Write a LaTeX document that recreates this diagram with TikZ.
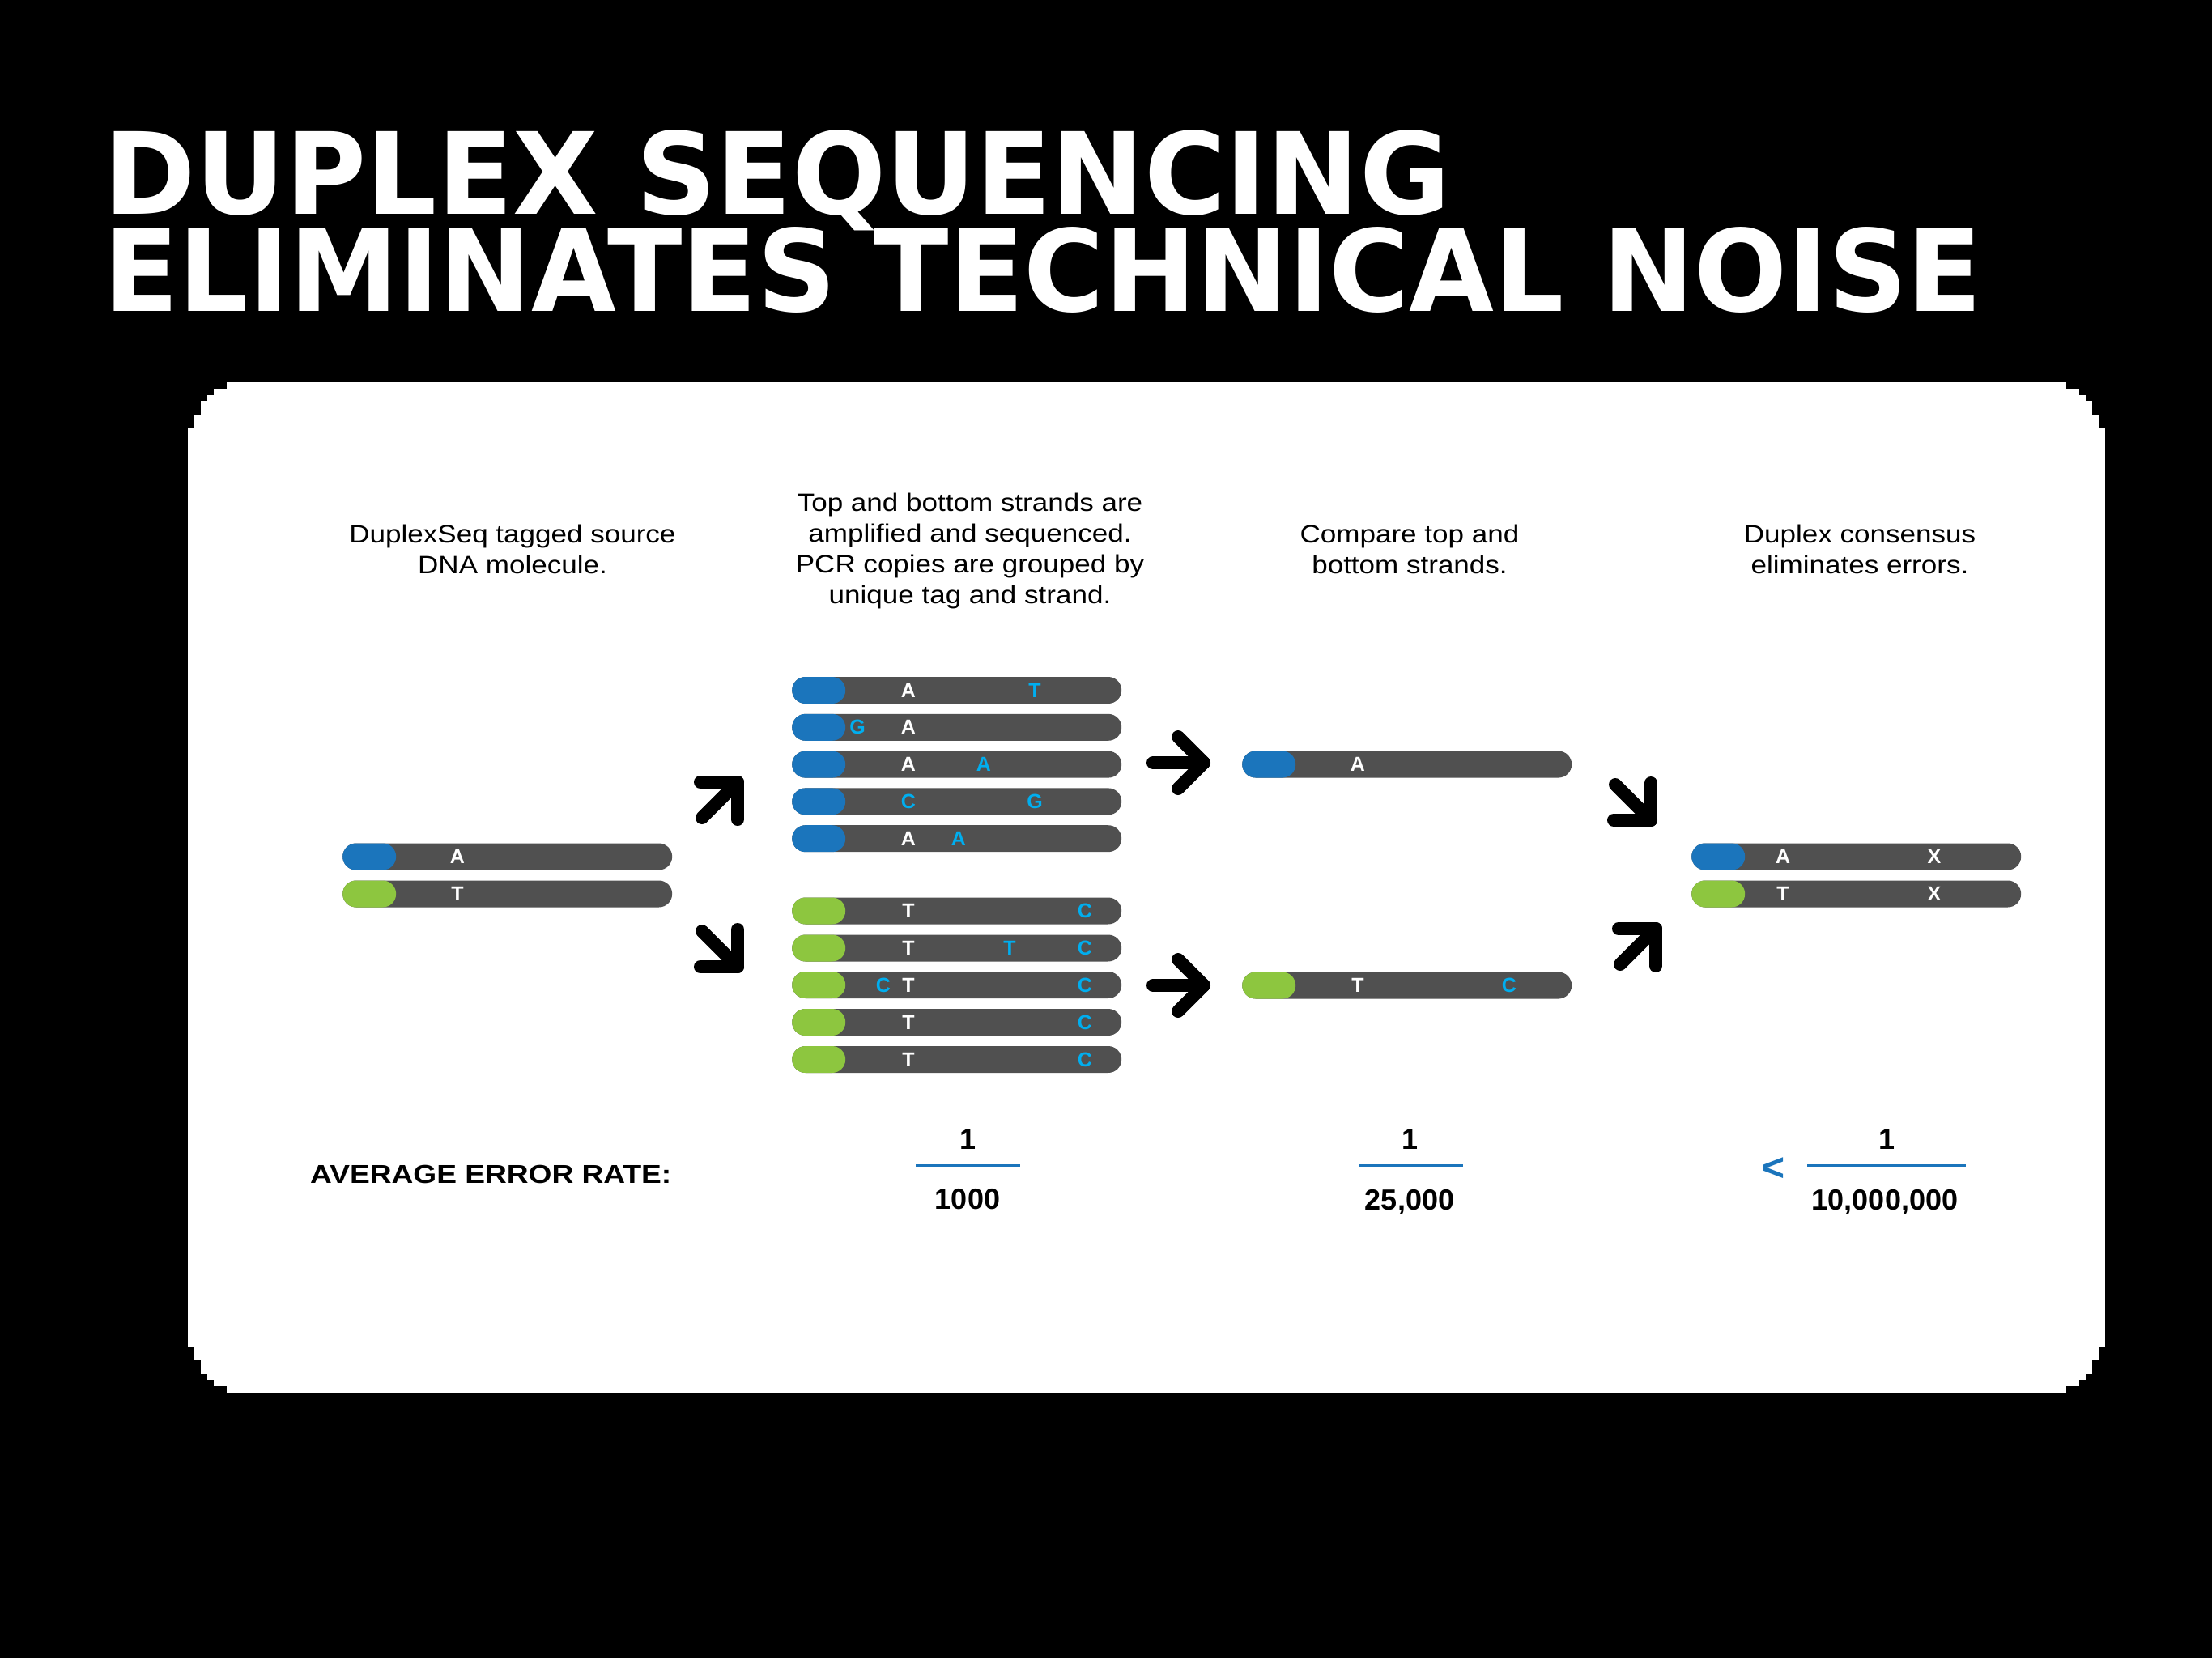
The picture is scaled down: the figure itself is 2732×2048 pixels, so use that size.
\documentclass[tikz,border=0pt]{standalone}
\usepackage{fontspec}
\setmainfont{Liberation Sans}
\newfontfamily\titlefont{DejaVu Sans}
\usepackage{graphicx}
\definecolor{dgray}{HTML}{505050}
\definecolor{tagblue}{HTML}{1B75BC}
\definecolor{taggreen}{HTML}{8DC63F}
\definecolor{errcyan}{HTML}{00AEEF}
\newcommand\hstack[1]{\scalebox{1.13}[1]{\begin{tabular}[t]{@{}c@{}}#1\end{tabular}}}
\newcommand\mkstrand[4]{\node[strand] (#1) at (#2,#3) {};\node[#4] (#1cap) at (#1.west) {};}
\tikzset{
  strand/.style={rectangle, rounded corners=16.5pt, minimum width=407pt, minimum height=33pt, inner sep=0pt, fill=dgray, anchor=west},
  capblue/.style={rectangle, rounded corners=16.5pt, minimum width=66pt, minimum height=33pt, inner sep=0pt, fill=tagblue, anchor=west},
  capgreen/.style={capblue, fill=taggreen},
  basew/.style={inner sep=0pt, anchor=center, text=white, font=\fontsize{25}{25}\selectfont\bfseries},
  basec/.style={basew, text=errcyan},
  hd/.style={inner sep=0pt, anchor=base, text=black, font=\fontsize{31}{38}\selectfont},
  fracnum/.style={inner sep=0pt, anchor=base, text=black, font=\fontsize{36}{36}\selectfont\bfseries},
  fracline/.style={draw=tagblue, line width=3pt},
  titletext/.style={anchor=base west, inner sep=0pt, text depth=0pt, text=white, font=\fontsize{100}{100}\selectfont},
  arr/.style={draw=black, line width=16pt, line cap=round, line join=round},
  arrNE/.pic={\draw[arr] (-46,0) -- (0,0) -- (0,46); \draw[arr] (-44,44) -- (0,0);},
  arrSE/.pic={\draw[arr] (-46,0) -- (0,0) -- (0,-46); \draw[arr] (-44,-44) -- (0,0);},
  arrE/.pic={\draw[arr] (-63,0) -- (0,0); \draw[arr] (-32,-32) -- (0,0) -- (-32,32);}
}
\begin{document}
\begin{tikzpicture}[x=1pt,y=-1pt]
\fill[black] (0,0) rectangle (2732,2048);
\useasboundingbox (0,0) rectangle (2732,2048);

% title
\node[titletext] (title1) at (128,264)
  {\resizebox{1663pt}{104pt}{\titlefont\bfseries DUPLEX SEQUENCING}};
\node[titletext] (title2) at (128,384)
  {\resizebox{2320pt}{104pt}{\titlefont\bfseries ELIMINATES TECHNICAL NOISE}};

% white panel with stepped corners
\fill[white] (296,472) rectangle (2536,1720);
\fill[white] (232,536) rectangle (2600,1656);
\foreach \sx/\sy/\cx/\cy in {1/1/232/472, -1/1/2600/472, 1/-1/232/1720, -1/-1/2600/1720} {
  \begin{scope}[shift={(\cx,\cy)}, xscale=\sx, yscale=\sy]
    \foreach \dx/\dy in {0/56,8/40,16/23,24/16,32/8,48/0}
      \fill[white] (\dx,\dy) rectangle (64,64);
  \end{scope}
}

% headings
\node[hd] (h1) at (633,670) {\hstack{DuplexSeq tagged source\\DNA molecule.}};
\node[hd] (h2) at (1198,631) {\hstack{Top and bottom strands are\\amplified and sequenced.\\PCR copies are grouped by\\unique tag and strand.}};
\node[hd] (h3) at (1741,670) {\hstack{Compare top and\\bottom strands.}};
\node[hd] (h4) at (2297,670) {\hstack{Duplex consensus\\eliminates errors.}};

% source molecule
\mkstrand{src1}{423}{1058}{capblue}
\mkstrand{src2}{423}{1104}{capgreen}
\node[basew] (src1a) at (565,1058) {A};
\node[basew] (src2a) at (565,1104) {T};

% amplified top strands
\mkstrand{t1}{978}{852.5}{capblue}
\mkstrand{t2}{978}{898.3}{capblue}
\mkstrand{t3}{978}{944.1}{capblue}
\mkstrand{t4}{978}{989.9}{capblue}
\mkstrand{t5}{978}{1035.7}{capblue}
\node[basew] (t1a) at (1122,852.5) {A};
\node[basec] (t1b) at (1278,852.5) {T};
\node[basec] (t2b) at (1059,898.3) {G};
\node[basew] (t2a) at (1122,898.3) {A};
\node[basew] (t3a) at (1122,944.1) {A};
\node[basec] (t3b) at (1215,944.1) {A};
\node[basec] (t4a) at (1122,989.9) {C};
\node[basec] (t4b) at (1278,989.9) {G};
\node[basew] (t5a) at (1122,1035.7) {A};
\node[basec] (t5b) at (1184,1035.7) {A};

% amplified bottom strands
\mkstrand{b1}{978}{1125}{capgreen}
\mkstrand{b2}{978}{1171}{capgreen}
\mkstrand{b3}{978}{1216.5}{capgreen}
\mkstrand{b4}{978}{1262.5}{capgreen}
\mkstrand{b5}{978}{1308.5}{capgreen}
\node[basew] (b1a) at (1122,1125) {T};
\node[basec] (b1c) at (1340,1125) {C};
\node[basew] (b2a) at (1122,1171) {T};
\node[basec] (b2b) at (1247,1171) {T};
\node[basec] (b2c) at (1340,1171) {C};
\node[basec] (b3b) at (1091,1216.5) {C};
\node[basew] (b3a) at (1122,1216.5) {T};
\node[basec] (b3c) at (1340,1216.5) {C};
\node[basew] (b4a) at (1122,1262.5) {T};
\node[basec] (b4c) at (1340,1262.5) {C};
\node[basew] (b5a) at (1122,1308.5) {T};
\node[basec] (b5c) at (1340,1308.5) {C};

% compared strands
\mkstrand{cmp1}{1534}{944}{capblue}
\mkstrand{cmp2}{1534}{1217}{capgreen}
\node[basew] (cmp1a) at (1677,944) {A};
\node[basew] (cmp2a) at (1677,1217) {T};
\node[basec] (cmp2c) at (1864,1217) {C};

% duplex consensus
\mkstrand{dc1}{2089}{1058}{capblue}
\mkstrand{dc2}{2089}{1104}{capgreen}
\node[basew] (dc1a) at (2202,1058) {A};
\node[basew] (dc1x) at (2389,1058) {X};
\node[basew] (dc2a) at (2202,1104) {T};
\node[basew] (dc2x) at (2389,1104) {X};

% arrows
\pic at (911,966) {arrNE};
\pic at (911,1194) {arrSE};
\pic at (1487,942) {arrE};
\pic at (1487,1217) {arrE};
\pic at (2039,1013) {arrSE};
\pic at (2045,1147) {arrNE};

% error rates
\node[inner sep=0pt, anchor=base west, font=\fontsize{32}{32}\selectfont\bfseries] (avg) at (383,1461)
  {\scalebox{1.16}[1]{AVERAGE ERROR RATE:}};
\node[fracnum] (n1) at (1195,1419) {1};
\node[fracnum] (d1) at (1195,1493) {1000};
\draw[fracline] (1131,1439) -- (1260,1439);
\node[fracnum] (n2) at (1741,1419) {1};
\node[fracnum] (d2) at (1741,1494) {25,000};
\draw[fracline] (1678,1439) -- (1807,1439);
\node[inner sep=0pt, anchor=center, text=tagblue, font=\fontsize{48}{48}\selectfont\bfseries] (lt) at (2190,1444) {<};
\node[fracnum] (n3) at (2330,1419) {1};
\node[fracnum] (d3) at (2328,1494) {10,000,000};
\draw[fracline] (2232,1439) -- (2428,1439);
\end{tikzpicture}
\end{document}
